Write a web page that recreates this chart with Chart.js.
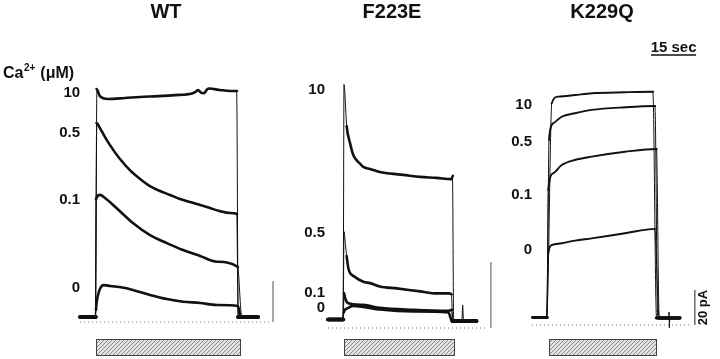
<!DOCTYPE html>
<html>
<head>
<meta charset="utf-8">
<script src="https://cdn.jsdelivr.net/npm/chart.js@4.4.1/dist/chart.umd.min.js"></script>
<style>
  body { margin: 0; background: #fff; }
  #traces { display: block; }
</style>
</head>
<body>
<canvas id="traces" width="720" height="359"></canvas>
<script>
// current traces, [time (s) from Ca2+ application, current (pA)]
var wt10 = [[-5.2,2.4],[0,2.4],[0.3,113.7],[1.4,110.2],[4.1,108.8],[9.8,109.3],[14.8,109.8],[20.8,110.2],[26.4,110.7],[32.1,111.5],[33.4,112.4],[34.1,113.2],[35.1,111.9],[36.1,111.6],[37.1,113.4],[37.8,113.9],[41.4,113.2],[44.8,112.7],[47.1,112.7],[47.4,2.4],[54.1,2.4]]
var wt05 = [[-5.2,2.4],[0,2.4],[0.27,97.1],[1.43,94.6],[3.1,90.2],[4.77,86.3],[8.1,79.5],[11.4,74.1],[14.8,69.8],[18.1,66.3],[21.4,63.9],[24.8,62.0],[28.1,60.0],[31.4,58.5],[34.8,57.1],[38.1,55.6],[41.4,54.1],[44.8,53.2],[47.1,52.7],[47.4,2.4],[54.1,2.4]]
var wt01 = [[-5.2,2.4],[0,2.4],[0.1,60.0],[1.43,62.0],[3.1,60.5],[7.0,55.5],[12.4,48.3],[18.1,42.4],[23.7,38.5],[29.1,35.1],[34.8,32.2],[40.3,29.4],[47.4,26.8],[48.6,2.4],[54.1,2.4]]
var wt0 = [[-5.2,2.4],[0,2.4],[0.1,5.9],[0.77,13.2],[1.77,17.1],[2.77,18.0],[4.8,17.6],[9.8,16.6],[12.4,15.6],[18.1,13.2],[23.7,11.2],[29.1,9.9],[34.8,9.3],[40.3,8.3],[47.4,7.8],[48.4,2.4],[54.1,2.4]]

var f10 = [[-5.1,2.6],[0,2.6],[0.23,73.8],[1.13,61.2],[2.23,56.1],[3.33,52.4],[4.47,50.8],[5.57,49.8],[6.67,48.8],[8.9,48.2],[12.2,47.3],[15.6,46.8],[19.9,46.4],[25.6,45.8],[31.1,45.5],[36.1,45.1],[36.5,46.1],[36.7,2.1],[39.6,2.1],[39.8,7.0],[40.0,2.1],[44.4,2.1]]
var f05 = [[-5.1,2.6],[0,2.6],[0.23,29.2],[0.73,25.1],[1.13,21.8],[1.67,18.2],[2.23,16.7],[3.33,15.8],[6.67,14.0],[8.9,13.6],[12.2,12.6],[17.8,12.0],[25.6,11.1],[31.1,10.5],[35.0,10.5],[36.1,10.2],[36.4,2.1],[44.4,2.1]]
var f01 = [[-5.1,2.6],[0,2.6],[0.23,10.6],[0.6,9.1],[1.67,7.5],[6.67,7.0],[12.2,6.1],[23.3,5.5],[35.0,5.2],[36.1,5.5],[36.5,2.1],[44.4,2.1]]
var f0 = [[-5.1,2.6],[0,2.6],[0.2,4.8],[1.0,5.8],[3.3,6.7],[6.67,6.4],[12.2,5.6],[23.3,5.0],[35.0,4.7],[36.3,2.1],[44.4,2.1]]

var k10 = [[-4.7,4.3],[0,4.3],[1.57,126.7],[3.77,130.5],[9.3,131.4],[14.9,132.4],[26.0,133.0],[35.4,133.3],[36.4,4.0],[44.3,4.0]]
var k05 = [[-4.7,4.3],[0,4.3],[0.67,105.7],[2.1,115.3],[4.9,119.0],[9.3,121.0],[14.9,122.9],[26.0,124.4],[36.1,125.1],[36.8,4.0],[44.3,4.0]]
var k01 = [[-4.7,4.3],[0,4.3],[0.43,77.1],[2.1,86.7],[4.9,91.4],[9.3,94.3],[14.9,96.2],[26.0,99.0],[36.6,100.6],[37.3,4.0],[44.3,4.0]]
var k0 = [[-4.7,4.3],[0,4.3],[0.43,41.0],[1.57,45.7],[4.9,46.7],[9.3,48.2],[14.9,49.5],[26.0,52.4],[36.0,54.9],[37.3,4.0],[40.6,4.0],[40.7,7.4],[40.8,-1.7],[40.9,4.0],[44.3,4.0]]

var panels = ['WT', 'F223E', 'K229Q']
var concLabels = ['10', '0.5', '0.1', '0']
var wtLabelLevels = [111.7, 92.2, 59.5, 16.6]
var fLabelLevels = [72.1, 28.8, 10.6, 6.1]
var kLabelLevels = [125.7, 104.6, 74.3, 42.9]
var stimWT = [0.1, 48.1]
var stimF = [0.2, 36.9]
var stimK = [0.7, 36.3]
var zeroWT = [-5.2, 58.1]
var zeroF = [-5.1, 47.2]
var zeroK = [-5.0, 47.7]
var pAbar = [0, 20]
var secBar = [34.7, 49.7]

function pts(arr) {
    return arr.map(function (p) { return {x: p[0], y: p[1]} })
}

// fast transitions are drawn thin, the noisy holding current a bit thicker
function traceSet(arr, xa, ya, w) {
    return {
        data: pts(arr), xAxisID: xa, yAxisID: ya,
        borderColor: '#111', borderWidth: w, pointRadius: 0,
        cubicInterpolationMode: 'monotone',
        borderJoinStyle: 'round', borderCapStyle: 'round',
        segment: {
            borderWidth: function (c) {
                var dx = Math.abs(c.p1.x - c.p0.x), dy = Math.abs(c.p1.y - c.p0.y)
                var a = arr[c.p0DataIndex], b = arr[c.p1DataIndex]
                if (dy > 8 * dx) return 1
                if (a && b && a[1] === b[1] && a[1] < 6) return w + 1
                return w
            }
        }
    }
}

function lineSet(arr, xa, ya, color, w, dash) {
    return {
        data: pts(arr), xAxisID: xa, yAxisID: ya,
        borderColor: color, borderWidth: w, pointRadius: 0,
        borderDash: dash || []
    }
}

var ctx = document.getElementById('traces').getContext('2d')

function makeHatch() {
    var c = document.createElement('canvas')
    c.width = 4; c.height = 4
    var g = c.getContext('2d')
    g.fillStyle = '#e2e2e2'
    g.fillRect(0, 0, 4, 4)
    g.strokeStyle = '#8c8c8c'
    g.lineWidth = 1
    g.beginPath()
    g.moveTo(-1, 5); g.lineTo(5, -1)
    g.moveTo(-1, 1); g.lineTo(1, -1)
    g.moveTo(3, 5); g.lineTo(5, 3)
    g.stroke()
    return ctx.createPattern(c, 'repeat')
}
var hatch = makeHatch()

var annotate = {
    id: 'annotate',
    afterDatasetsDraw: function (chart) {
        var c = chart.ctx
        var s = chart.scales
        c.save()
        c.fillStyle = '#111'
        c.textBaseline = 'middle'

        // panel titles
        c.font = 'bold 20px "Liberation Sans", Arial, sans-serif'
        c.textAlign = 'center'
        c.fillText(panels[0], 166, 12)
        c.fillText(panels[1], 392, 12)
        c.fillText(panels[2], 602, 12)

        // concentration labels next to each trace
        c.font = 'bold 15px "Liberation Sans", Arial, sans-serif'
        c.textAlign = 'right'
        var groups = [['xWT', 'yWT', wtLabelLevels, -5.2], ['xF', 'yF', fLabelLevels, -6.1], ['xK', 'yK', kLabelLevels, -5.0]]
        groups.forEach(function (g) {
            var x = s[g[0]].getPixelForValue(g[3])
            for (var i = 0; i < concLabels.length; i++) {
                c.fillText(concLabels[i], x, s[g[1]].getPixelForValue(g[2][i]))
            }
        })

        // Ca2+ (uM)
        c.textAlign = 'left'
        c.textBaseline = 'alphabetic'
        c.font = 'bold 16px "Liberation Sans", Arial, sans-serif'
        c.fillText('Ca', 3, 78)
        var w = c.measureText('Ca').width
        c.font = 'bold 10px "Liberation Sans", Arial, sans-serif'
        c.fillText('2+', 3 + w + 0.5, 71)
        var w2 = c.measureText('2+').width
        c.font = 'bold 16px "Liberation Sans", Arial, sans-serif'
        c.fillText(' (\u03bcM)', 3 + w + w2 + 1, 78)

        // scale bar labels
        c.font = 'bold 15px "Liberation Sans", Arial, sans-serif'
        c.textAlign = 'center'
        c.fillText('15 sec', (s.xK.getPixelForValue(secBar[0]) + s.xK.getPixelForValue(secBar[1])) / 2, 52)
        c.font = 'bold 13px "Liberation Sans", Arial, sans-serif'
        c.translate(707, (s.yK.getPixelForValue(pAbar[0]) + s.yK.getPixelForValue(pAbar[1])) / 2)
        c.rotate(-Math.PI / 2)
        c.textBaseline = 'alphabetic'
        c.fillText('20 pA', 0, 0)
        c.restore()

        // hatched bars for the Ca2+ application
        c.save()
        var bars = [['xWT', stimWT], ['xF', stimF], ['xK', stimK]]
        bars.forEach(function (b) {
            var x0 = Math.round(s[b[0]].getPixelForValue(b[1][0])) + 0.5
            var x1 = Math.round(s[b[0]].getPixelForValue(b[1][1])) + 0.5
            c.fillStyle = hatch
            c.fillRect(x0, 339.5, x1 - x0, 16)
            c.strokeStyle = '#444'
            c.lineWidth = 1
            c.strokeRect(x0, 339.5, x1 - x0, 16)
        })
        c.restore()
    }
}

var datasets = [
    traceSet(wt10, 'xWT', 'yWT', 2.6),
    traceSet(wt05, 'xWT', 'yWT', 2.6),
    traceSet(wt01, 'xWT', 'yWT', 2.6),
    traceSet(wt0, 'xWT', 'yWT', 2.6),
    traceSet(f10, 'xF', 'yF', 2.6),
    traceSet(f05, 'xF', 'yF', 2.6),
    traceSet(f01, 'xF', 'yF', 2.6),
    traceSet(f0, 'xF', 'yF', 2.6),
    traceSet(k10, 'xK', 'yK', 1.9),
    traceSet(k05, 'xK', 'yK', 1.9),
    traceSet(k01, 'xK', 'yK', 1.9),
    traceSet(k0, 'xK', 'yK', 1.9),
    lineSet([[zeroWT[0], 0], [zeroWT[1], 0]], 'xWT', 'yWT', '#777', 1, [1, 3]),
    lineSet([[zeroF[0], 0], [zeroF[1], 0]], 'xF', 'yF', '#777', 1, [1, 3]),
    lineSet([[zeroK[0], 0], [zeroK[1], 0]], 'xK', 'yK', '#777', 1, [1, 3]),
    lineSet([[59.1, pAbar[0]], [59.1, pAbar[1]]], 'xWT', 'yWT', '#555', 1),
    lineSet([[49.2, pAbar[0]], [49.2, pAbar[1]]], 'xF', 'yF', '#555', 1),
    lineSet([[49.3, pAbar[0]], [49.3, pAbar[1]]], 'xK', 'yK', '#222', 1),
    lineSet([[secBar[0], 154.3], [secBar[1], 154.3]], 'xK', 'yK', '#111', 1.5)
]

var mychart = new Chart(ctx, {
    type: 'line',
    data: {datasets: datasets},
    options: {
        responsive: false,
        animation: false,
        devicePixelRatio: 1,
        layout: {padding: 0},
        plugins: {legend: {display: false}, tooltip: {enabled: false}},
        scales: {
            xWT: {type: 'linear', display: false, min: -31.9, max: 208.1},
            xF: {type: 'linear', display: false, min: -114.43, max: 125.57},
            xK: {type: 'linear', display: false, min: -182.33, max: 57.67},
            yWT: {type: 'linear', display: false, min: -18.05, max: 157.1},
            yF: {type: 'linear', display: false, min: -9.39, max: 99.39},
            yK: {type: 'linear', display: false, min: -19.43, max: 185.71}
        }
    },
    plugins: [annotate]
});
</script>
</body>
</html>
